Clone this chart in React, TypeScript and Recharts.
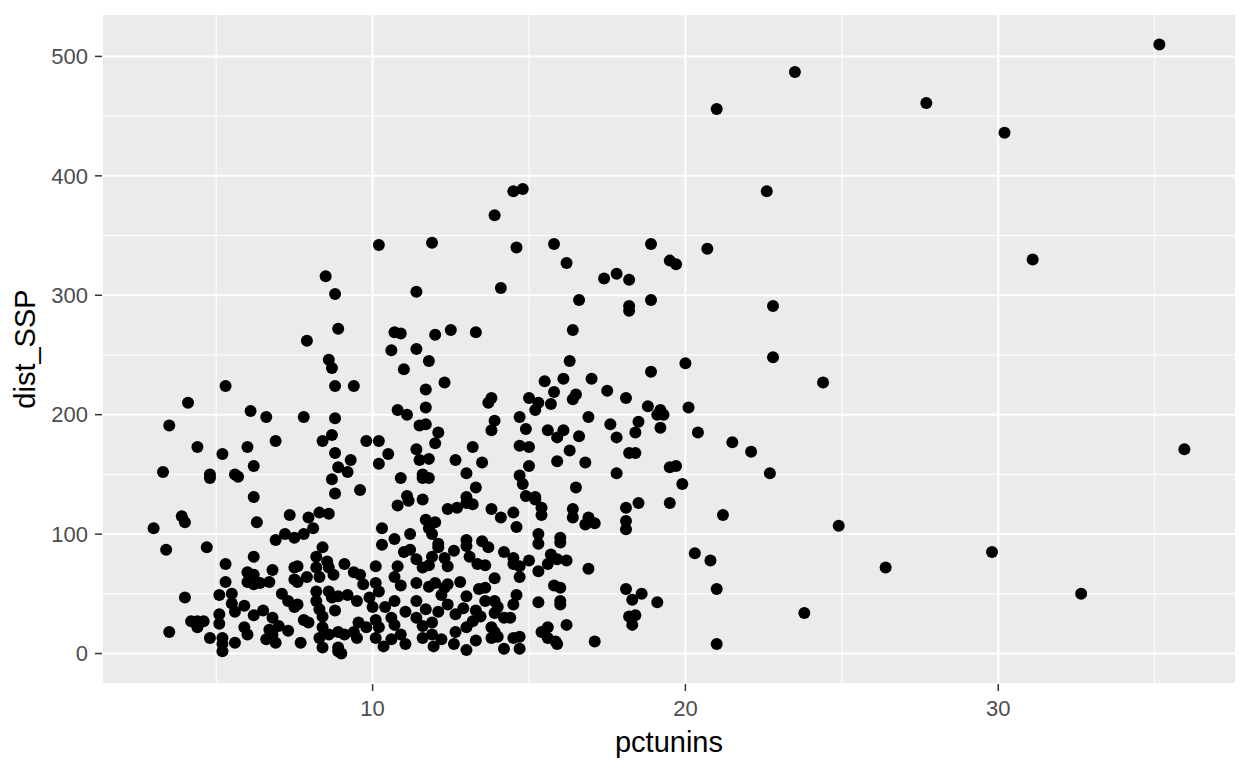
import { CartesianGrid, Label, Scatter, ScatterChart, XAxis, YAxis } from "recharts";

// axis setup (ggplot grey theme look)
const X_TICKS = [10, 20, 30];
const X_MINOR = [5, 15, 25, 35];
const Y_TICKS = [0, 100, 200, 300, 400, 500];
const Y_MINOR = [50, 150, 250, 350, 450];
const X_DOMAIN = [1.35, 37.6];
const Y_DOMAIN = [-25.5, 535.5];

// [pctunins, dist_SSP], grouped by region
const FAR_RIGHT = [
  [23.5, 487], [27.7, 461], [30.2, 436], [35.15, 510], [31.1, 330], [24.4, 227],
  [35.95, 171], [24.9, 107], [26.4, 72], [29.8, 85], [32.65, 50], [23.8, 34],
];

const TOP_MID = [
  [21.0, 456], [22.6, 387], [14.5, 387], [14.8, 389], [13.9, 367], [14.6, 340],
  [15.8, 343], [16.2, 327], [17.4, 314], [17.8, 318], [18.2, 313], [18.9, 343],
  [19.5, 329], [19.7, 326], [20.7, 339], [14.1, 306], [16.6, 296], [18.2, 291],
  [18.2, 287], [18.9, 296], [22.8, 291], [13.3, 269], [16.4, 271],
];

const TOP_LEFT = [
  [10.2, 342], [11.9, 344], [8.5, 316], [8.8, 301], [11.4, 303], [8.9, 272],
  [10.7, 269], [10.9, 268], [12.0, 267], [12.5, 271],
];

const MID_LEFT = [
  [5.3, 224], [4.1, 210], [6.1, 203], [6.6, 198], [3.5, 191], [6.9, 178],
  [4.4, 173], [6.0, 173], [5.2, 167], [3.3, 152], [4.8, 150], [4.8, 147],
  [5.6, 150], [5.7, 148], [6.2, 157], [6.2, 131],
];

const MID_CENTER = [
  [7.9, 262], [10.6, 254], [11.4, 255], [11.8, 245], [8.6, 246], [8.7, 239],
  [11.0, 238], [12.3, 227], [8.8, 224], [9.4, 224], [11.7, 221], [11.7, 206],
  [10.8, 204], [11.1, 200], [7.8, 198], [8.8, 197], [11.5, 191], [11.7, 192],
  [12.1, 185], [8.7, 183], [8.4, 178], [9.8, 178], [10.2, 178], [12.0, 176],
  [8.8, 168], [9.3, 162], [10.5, 167], [10.2, 159], [11.4, 171], [11.5, 162],
  [11.8, 163], [12.65, 162], [8.9, 156], [9.2, 152], [8.7, 146], [10.9, 147],
  [11.6, 150], [11.6, 147], [11.8, 147], [8.8, 134], [9.6, 137], [11.1, 132],
  [11.6, 129],
];

const MID_RIGHT = [
  [16.3, 245], [15.5, 228], [16.1, 230], [17.0, 230], [17.5, 220], [18.1, 214],
  [13.7, 210], [13.8, 214], [15.0, 214], [15.3, 210], [15.2, 204], [15.8, 219],
  [15.7, 209], [16.4, 213], [16.5, 217], [14.7, 198], [13.9, 195], [13.8, 187],
  [14.9, 188], [15.6, 187], [16.1, 187], [15.9, 181], [16.9, 198], [17.6, 192],
  [16.6, 182], [17.8, 181], [13.2, 173], [14.7, 174], [15.0, 173], [16.3, 170],
  [13.5, 160], [13.0, 151], [15.0, 157], [15.9, 161], [16.8, 160], [17.8, 151],
  [14.7, 149], [14.8, 142], [13.3, 139], [16.5, 139], [14.9, 132], [15.2, 131],
  [13.0, 131],
];

const MID_FAR = [
  [22.8, 248], [20.0, 243], [18.9, 236], [18.8, 207], [20.1, 206], [19.2, 204],
  [19.1, 200], [19.3, 200], [18.5, 194], [18.4, 185], [19.2, 189], [20.4, 185],
  [21.5, 177], [22.1, 169], [18.2, 168], [18.4, 168], [19.5, 156], [19.7, 157],
  [22.7, 151], [19.9, 142],
];

const LOW_FAR = [
  [18.5, 126], [19.5, 126], [18.1, 122], [18.1, 111], [18.1, 104], [21.2, 116],
  [20.3, 84], [20.8, 78], [21.0, 54], [18.1, 54], [18.6, 50], [18.3, 45],
  [19.1, 43], [18.2, 31], [18.4, 32], [18.3, 24], [21.0, 8],
];

const LOW_LEFT = [
  [7.35, 116], [3.9, 115], [4.0, 110], [3.0, 105], [6.3, 110], [7.2, 100],
  [6.9, 95], [7.5, 97], [3.4, 87], [4.7, 89], [6.2, 81], [5.3, 75],
  [6.8, 70], [6.0, 68], [6.2, 66], [6.0, 60], [6.2, 58], [6.4, 59],
  [6.7, 60], [5.3, 60], [7.5, 72], [7.5, 62], [4.0, 47], [5.1, 49],
  [5.5, 50], [5.5, 42], [5.9, 40], [5.6, 35], [5.1, 33], [5.1, 25],
  [5.9, 22], [6.0, 16], [6.2, 32], [6.5, 36], [6.8, 30], [7.0, 23],
  [6.7, 20], [6.8, 16], [6.6, 12], [6.9, 9], [7.1, 50], [7.3, 44],
  [7.5, 39], [7.3, 19], [4.2, 27], [4.4, 27], [4.6, 27], [4.4, 22],
  [3.5, 18], [4.8, 13], [5.2, 13], [5.2, 8], [5.2, 2], [5.6, 9],
];

const LOW_CENTER = [
  [10.8, 124], [11.15, 128], [12.4, 121], [12.7, 122], [7.95, 114], [8.3, 118],
  [8.6, 117], [7.8, 100], [8.1, 105], [10.3, 105], [11.7, 112], [12.0, 110],
  [11.8, 105], [11.9, 100], [10.7, 96], [11.2, 100], [10.3, 91], [12.1, 92],
  [12.1, 89], [8.4, 89], [11.0, 85], [11.2, 87], [11.4, 79], [11.6, 72],
  [11.8, 74], [11.9, 81], [12.3, 80], [12.6, 86], [12.4, 73], [8.2, 81],
  [8.2, 72], [8.55, 77], [8.6, 72], [8.75, 66], [8.3, 64], [9.1, 75],
  [7.6, 73], [7.9, 64], [7.6, 60], [9.4, 68], [9.6, 66], [9.7, 58],
  [10.1, 59], [10.1, 73], [10.2, 52], [10.8, 73], [10.7, 64], [10.9, 57],
  [11.4, 59], [11.8, 56], [12.0, 59], [12.3, 55], [12.4, 58], [12.2, 49],
  [8.2, 52], [8.6, 52], [8.9, 48], [8.2, 44], [8.7, 47], [9.2, 49],
  [9.5, 44], [7.6, 41], [7.8, 28], [7.95, 26], [8.3, 37], [8.4, 31],
  [8.8, 36], [9.9, 47], [10.0, 39], [10.1, 28], [10.2, 22], [10.1, 13],
  [10.4, 39], [10.7, 44], [11.05, 35], [10.6, 30], [10.7, 24], [11.4, 44],
  [11.7, 37], [11.4, 30], [11.6, 23], [11.9, 26], [12.1, 35], [12.4, 41],
  [12.65, 33], [9.55, 26], [9.8, 22], [8.4, 22], [8.6, 16], [8.3, 13],
  [8.9, 18], [9.1, 16], [9.4, 18], [9.5, 13], [8.9, 5], [8.4, 5],
  [7.7, 9], [10.35, 6], [10.6, 12], [10.9, 16], [11.05, 8], [11.6, 13],
  [11.9, 16], [11.95, 6], [12.2, 12], [12.6, 8], [12.65, 18], [8.9, 2],
  [9.0, 0],
];

const LOW_RIGHT = [
  [13.0, 126], [13.2, 125], [15.2, 129], [15.4, 122], [15.4, 116], [13.8, 121],
  [14.1, 114], [14.5, 118], [14.6, 106], [16.4, 121], [16.4, 114], [16.9, 114],
  [16.8, 108], [17.1, 109], [13.0, 95], [13.0, 90], [13.5, 94], [13.7, 89],
  [15.3, 100], [15.3, 92], [16.0, 97], [16.0, 93], [13.1, 81], [13.35, 75],
  [13.6, 74], [14.2, 85], [14.5, 80], [14.5, 75], [14.7, 73], [15.0, 78],
  [14.7, 64], [15.3, 69], [15.7, 83], [15.6, 75], [15.9, 79], [16.2, 78],
  [16.9, 71], [12.8, 60], [13.9, 63], [13.4, 54], [13.6, 55], [13.0, 48],
  [12.9, 38], [13.3, 36], [13.6, 44], [13.9, 44], [14.0, 39], [13.45, 31],
  [13.2, 27], [13.0, 22], [13.9, 34], [14.2, 30], [14.4, 30], [14.5, 41],
  [14.6, 49], [13.8, 22], [13.9, 18], [13.8, 13], [14.0, 14], [13.3, 11],
  [14.5, 13], [14.7, 14], [14.2, 4], [14.7, 4], [13.0, 3], [15.3, 43],
  [15.8, 57], [16.0, 55], [16.0, 44], [16.0, 41], [16.2, 24], [15.4, 18],
  [15.6, 22], [15.6, 13], [15.85, 10], [15.9, 8], [17.1, 10],
];

const ALL_POINTS = [
  ...FAR_RIGHT, ...TOP_MID, ...TOP_LEFT, ...MID_LEFT, ...MID_CENTER, ...MID_RIGHT,
  ...MID_FAR, ...LOW_FAR, ...LOW_LEFT, ...LOW_CENTER, ...LOW_RIGHT,
];

const data = ALL_POINTS.map(([x, y]) => ({ pctunins: x, dist_SSP: y }));

const FONT = "'Liberation Sans', Arial, Helvetica, sans-serif";
const PANEL = "#EBEBEB";
const TICK_TEXT = "#4D4D4D";

const Dot = (props: any) => <circle cx={props.cx} cy={props.cy} r={6} fill="#000" />;

export default function App() {
  return (
    <div
      style={{
        position: "absolute",
        left: 0,
        top: 0,
        width: 1248,
        height: 768,
        background: "#fff",
        fontFamily: FONT,
      }}
    >
      <ScatterChart width={1248} height={768} margin={{ top: 14, right: 12, bottom: 0, left: 0 }}>
        {/* minor grid via hidden axes */}
        <XAxis xAxisId="minor" type="number" dataKey="pctunins" domain={X_DOMAIN} ticks={X_MINOR} hide allowDataOverflow />
        <YAxis yAxisId="minor" type="number" dataKey="dist_SSP" domain={Y_DOMAIN} ticks={Y_MINOR} hide allowDataOverflow />
        <CartesianGrid xAxisId="minor" yAxisId="minor" fill={PANEL} fillOpacity={1} stroke="#fff" strokeWidth={1} />
        <CartesianGrid stroke="#fff" strokeWidth={2} />
        <XAxis
          type="number"
          dataKey="pctunins"
          domain={X_DOMAIN}
          ticks={X_TICKS}
          allowDataOverflow
          height={84}
          axisLine={false}
          tickSize={7}
          tickMargin={9}
          tickLine={{ stroke: "#333333", strokeWidth: 1.5 }}
          tick={{ fill: TICK_TEXT, fontSize: 22, fontFamily: FONT }}
        >
          <Label value="pctunins" position="insideBottom" offset={16} style={{ fill: "#000", fontSize: 29, fontFamily: FONT }} />
        </XAxis>
        <YAxis
          type="number"
          dataKey="dist_SSP"
          domain={Y_DOMAIN}
          ticks={Y_TICKS}
          allowDataOverflow
          width={102}
          axisLine={false}
          tickSize={7}
          tickMargin={7}
          tickLine={{ stroke: "#333333", strokeWidth: 1.5 }}
          tick={{ fill: TICK_TEXT, fontSize: 22, fontFamily: FONT }}
        >
          <Label
            value="dist_SSP"
            angle={-90}
            position="insideLeft"
            offset={25}
            style={{ fill: "#000", fontSize: 29, fontFamily: FONT, textAnchor: "middle" }}
          />
        </YAxis>
        <Scatter data={data} shape={Dot} isAnimationActive={false} />
      </ScatterChart>
    </div>
  );
}
